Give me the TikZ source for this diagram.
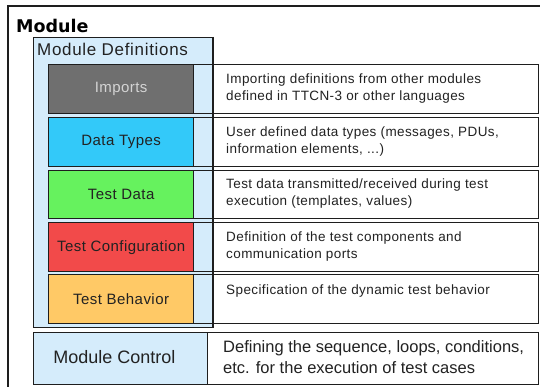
\documentclass[tikz,border=0pt]{standalone}
\usepackage{fontspec}
\setmainfont{Liberation Sans}
\newfontfamily\labelfont[LetterSpace=3]{Liberation Sans}
\newfontfamily\descfont[LetterSpace=3]{Liberation Sans}
\newfontfamily\defsfont[LetterSpace=4]{Liberation Sans}
\newfontfamily\titlefont{DejaVu Sans}

\definecolor{frame}{HTML}{1E1E1E}
\definecolor{paleblue}{HTML}{D5ECFB}
\definecolor{impgray}{HTML}{6F6F6F}
\definecolor{implabel}{HTML}{D4D4D4}
\definecolor{typeblue}{HTML}{33C9F9}
\definecolor{datagreen}{HTML}{66F25E}
\definecolor{cfgred}{HTML}{F24A4A}
\definecolor{behorange}{HTML}{FFC966}
\definecolor{ink}{HTML}{222222}

\tikzset{
  box/.style={draw=frame, line width=1.3pt, inner sep=0pt, anchor=north west},
  part/.style={box, minimum width=145pt, minimum height=49pt, text=ink,
    font=\labelfont\fontsize{15}{18}\selectfont},
  descbox/.style={box, minimum width=345pt, minimum height=49pt},
  desc/.style={anchor=west, inner sep=0pt, align=left, text=ink,
    font=\descfont\fontsize{13.5}{17}\selectfont},
}

\begin{document}
\begin{tikzpicture}[x=1pt, y=-1pt]
  \useasboundingbox (0,0) rectangle (540,387);
  \fill[white] (0,0) rectangle (540,387);

  % outer module frame
  \draw[frame, line width=1.3pt] (540,6) -- (8,6) -- (8,387);
  \node[anchor=base west, inner sep=0pt, text=black,
        font=\titlefont\bfseries\fontsize{17.5}{20}\selectfont] (title) at (16,33) {Module};

  % module definitions container
  \node[box, fill=paleblue, minimum width=179pt, minimum height=290pt] (defs) at (33,37) {};
  \node[anchor=west, inner sep=0pt, text=ink,
        font=\defsfont\fontsize{17}{20}\selectfont] (defstitle) at (37,49) {Module Definitions};

  % description frames
  \node[descbox] (impd) at (193,64) {};
  \node[descbox] (typd) at (193,117) {};
  \node[descbox, minimum height=48pt] (datd) at (193,170) {};
  \node[descbox] (cfgd) at (193,222) {};
  \node[descbox] (behd) at (193,274) {};
  \draw[frame, line width=1.3pt] (defs.north east) -- (defs.south east);

  % definition parts
  \node[part, fill=impgray, text=implabel] (imp) at (48,64) {Imports};
  \node[part, fill=typeblue] (typ) at (48,117) {Data Types};
  \node[part, fill=datagreen, minimum height=48pt] (dat) at (48,170) {Test Data};
  \node[part, fill=cfgred] (cfg) at (48,222) {Test Configuration};
  \node[part, fill=behorange] (beh) at (48,274) {Test Behavior};

  % descriptions
  \node[desc] (impt) at (226,88.5) {Importing definitions from other modules\\defined in TTCN-3 or other languages};
  \node[desc] (typt) at (226,141.5) {User defined data types (messages, PDUs,\\information elements, ...)};
  \node[desc] (datt) at (226,193.5) {Test data transmitted/received during test\\execution (templates, values)};
  \node[desc] (cfgt) at (226,246.5) {Definition of the test components and\\communication ports};
  \node[desc] (beht) at (226,291) {Specification of the dynamic test behavior};

  % module control
  \node[box, fill=paleblue, minimum width=174pt, minimum height=52pt] (ctl) at (33,332) {};
  \node[box, minimum width=331pt, minimum height=52pt] (ctld) at (207,332) {};
  \node[inner sep=0pt, text=ink, font=\fontsize{18}{21}\selectfont] (ctlt) at (114.5,357.5) {Module Control};
  \node[anchor=west, inner sep=0pt, align=left, text=ink,
        font=\fontsize{16.5}{21}\selectfont] (ctldt) at (223,357.5)
        {Defining the sequence, loops, conditions,\\etc. for the execution of test cases};
\end{tikzpicture}
\end{document}
